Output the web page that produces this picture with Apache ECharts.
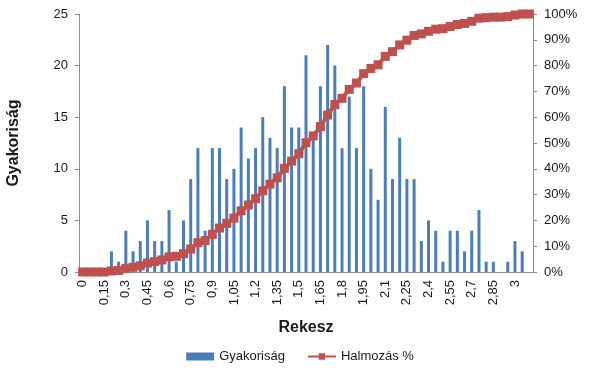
<!DOCTYPE html>
<html>
<head>
<meta charset="utf-8">
<script src="https://cdn.jsdelivr.net/npm/echarts@6/dist/echarts.min.js"></script>
<style>
  html, body { margin: 0; padding: 0; background: #fff; }
  #chart { width: 600px; height: 376px; }
</style>
</head>
<body>
<div id="chart"></div>
<script>
// rekesz (bins), 0 .. 3,1 by 0,05
var categories = ['0', '0,05', '0,1', '0,15', '0,2', '0,25', '0,3', '0,35', '0,4', '0,45',
  '0,5', '0,55', '0,6', '0,65', '0,7', '0,75', '0,8', '0,85', '0,9', '0,95',
  '1', '1,05', '1,1', '1,15', '1,2', '1,25', '1,3', '1,35', '1,4', '1,45',
  '1,5', '1,55', '1,6', '1,65', '1,7', '1,75', '1,8', '1,85', '1,9', '1,95',
  '2', '2,05', '2,1', '2,15', '2,2', '2,25', '2,3', '2,35', '2,4', '2,45',
  '2,5', '2,55', '2,6', '2,65', '2,7', '2,75', '2,8', '2,85', '2,9', '2,95',
  '3', '3,05', '3,1'];

// Gyakoriság
var frequency = [0, 0, 0, 0, 2, 1, 4, 2, 3, 5,
  3, 3, 6, 1, 5, 9, 12, 4, 12, 12,
  9, 10, 14, 11, 12, 15, 13, 12, 18, 14,
  14, 21, 13, 18, 22, 20, 12, 17, 12, 18,
  10, 7, 16, 9, 13, 9, 9, 3, 5, 4,
  1, 4, 4, 2, 4, 6, 1, 1, 0, 1,
  3, 2, 0];

// Halmozás %
var cumulative = [0, 0, 0, 0, 0.41, 0.61, 1.42, 1.83, 2.43, 3.45,
  4.06, 4.67, 5.88, 6.09, 7.10, 8.92, 11.36, 12.17, 14.60, 17.04,
  18.86, 20.89, 23.73, 25.96, 28.40, 31.44, 34.08, 36.51, 40.16, 43.00,
  45.84, 50.10, 52.74, 56.39, 60.85, 64.91, 67.34, 70.79, 73.23, 76.88,
  78.90, 80.32, 83.57, 85.40, 88.03, 89.86, 91.68, 92.29, 93.31, 94.12,
  94.32, 95.13, 95.94, 96.35, 97.16, 98.38, 98.58, 98.78, 98.78, 98.99,
  99.59, 100, 100];

var leftTicks = [0, 25, 5];     // min, max, interval
var rightTicks = [0, 100, 10];

var axisColor = '#8c8c8c';
var fontColor = '#1a1a1a';
var fontName = 'Liberation Sans';

var chart = echarts.init(document.getElementById('chart'));
chart.setOption({
  animation: false,
  backgroundColor: '#fff',
  textStyle: { fontFamily: fontName, color: fontColor },
  grid: { left: 79, right: 67, top: 14, bottom: 104, outerBoundsMode: 'none' },
  legend: {
    bottom: 8,
    left: 'center',
    itemWidth: 28,
    itemHeight: 8,
    itemGap: 22,
    textStyle: { fontFamily: fontName, fontSize: 13, color: fontColor },
    data: [{ name: 'Gyakoriság', icon: 'rect' }, { name: 'Halmozás %' }]
  },
  xAxis: {
    type: 'category',
    data: categories,
    name: 'Rekesz',
    nameLocation: 'middle',
    nameGap: 48,
    nameTextStyle: { fontWeight: 'bold', fontSize: 16, color: fontColor },
    axisLine: { lineStyle: { color: axisColor } },
    axisTick: { interval: 0, length: 4, lineStyle: { color: axisColor } },
    axisLabel: { interval: 2, rotate: 90, fontSize: 13, color: fontColor, margin: 8 }
  },
  yAxis: [{
    type: 'value',
    min: leftTicks[0], max: leftTicks[1], interval: leftTicks[2],
    name: 'Gyakoriság',
    nameLocation: 'middle',
    nameGap: 57,
    nameTextStyle: { fontWeight: 'bold', fontSize: 16, color: fontColor },
    axisLine: { show: true, lineStyle: { color: axisColor } },
    axisTick: { show: true, length: 4, lineStyle: { color: axisColor } },
    axisLabel: { fontSize: 13, color: fontColor, margin: 11 },
    splitLine: { show: false }
  }, {
    type: 'value',
    position: 'right',
    min: rightTicks[0], max: rightTicks[1], interval: rightTicks[2],
    axisLine: { show: true, lineStyle: { color: axisColor } },
    axisTick: { show: true, length: 4, lineStyle: { color: axisColor } },
    axisLabel: { formatter: '{value}%', fontSize: 13, color: fontColor, margin: 11 },
    splitLine: { show: false }
  }],
  series: [{
    name: 'Gyakoriság',
    type: 'bar',
    barWidth: 3,
    itemStyle: { color: '#4a7ebb' },
    data: frequency
  }, {
    name: 'Halmozás %',
    type: 'line',
    yAxisIndex: 1,
    symbol: 'rect',
    symbolSize: 9,
    showAllSymbol: true,
    lineStyle: { color: '#c0504d', width: 4 },
    itemStyle: { color: '#c0504d', borderWidth: 0 },
    data: cumulative
  }]
});
</script>
</body>
</html>
